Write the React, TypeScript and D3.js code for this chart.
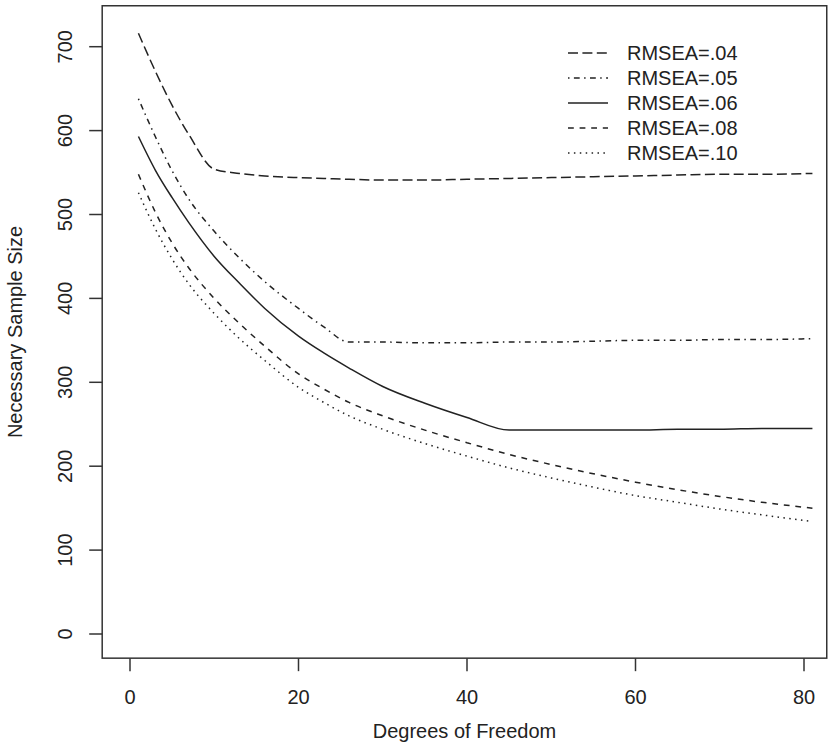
import { useEffect, useRef } from 'react'
import * as d3 from 'd3'

// degrees of freedom where the curves were read
const degrees = [1, 3, 5, 7, 10, 13, 16, 20, 23, 26, 30, 35, 40, 45, 50, 55, 60, 65, 70, 75, 81]

const rmsea04 = [716, 671, 630, 595, 554, 549, 546, 544, 543, 542, 541, 541, 542, 543, 544, 545, 546, 547, 548, 548, 549]
const rmsea05 = [638, 593, 552, 518, 480, 448, 420, 388, 366, 348, 348, 347, 347, 348, 348, 349, 350, 350, 351, 351, 352]
const rmsea06 = [593, 553, 520, 490, 450, 418, 388, 355, 335, 317, 295, 275, 258, 243, 243, 243, 243, 244, 244, 245, 245]
const rmsea08 = [548, 503, 466, 436, 400, 370, 343, 310, 292, 276, 260, 243, 228, 214, 202, 191, 181, 172, 164, 157, 150]
const rmsea10 = [526, 483, 447, 417, 382, 352, 326, 294, 276, 260, 244, 227, 212, 198, 186, 175, 165, 157, 149, 142, 134]

const seriesLabels = ['RMSEA=.04', 'RMSEA=.05', 'RMSEA=.06', 'RMSEA=.08', 'RMSEA=.10']
const xTicks = [0, 20, 40, 60, 80]
const yTicks = [0, 100, 200, 300, 400, 500, 600, 700]

export default function App() {
  const ref = useRef<SVGSVGElement>(null)

  useEffect(() => {
    const width = 829
    const height = 744
    const font = '"Liberation Sans", Arial, Helvetica, sans-serif'
    const ink = '#222'

    const x = d3.scaleLinear().domain([0, 80]).range([130, 804])
    const y = d3.scaleLinear().domain([0, 700]).range([634, 46.7])

    // box around plot region (R-style 4% padding)
    const box = { x0: x(-3.3), x1: x(82.7), y0: y(748.8), y1: y(-28.8) }

    const svg = d3.select(ref.current)
      .attr('width', width)
      .attr('height', height)
      .attr('viewBox', [0, 0, width, height])
    svg.selectAll('*').remove()

    svg.append('rect')
      .attr('width', width).attr('height', height).attr('fill', '#fff')

    svg.append('rect')
      .attr('x', box.x0).attr('y', box.y0)
      .attr('width', box.x1 - box.x0).attr('height', box.y1 - box.y0)
      .attr('fill', 'none').attr('stroke', '#333').attr('stroke-width', 1.5)

    // dash patterns like R's lty scaled up
    const dashes = ['10 4.4', '1.5 4.4 5.8 4.4', null, '5.8 5.8', '1.5 4.4']
    const series = [rmsea04, rmsea05, rmsea06, rmsea08, rmsea10]

    const line = d3.line<number>()
      .x((_, i) => x(degrees[i]))
      .y(d => y(d))
      .curve(d3.curveMonotoneX)

    series.forEach((s, i) => {
      svg.append('path')
        .attr('d', line(s))
        .attr('fill', 'none')
        .attr('stroke', ink)
        .attr('stroke-width', 1.5)
        .attr('stroke-dasharray', dashes[i])
    })

    // x axis
    const xa = svg.append('g').attr('font-family', font).attr('font-size', 20).attr('fill', ink)
    xa.selectAll('line').data(xTicks).join('line')
      .attr('x1', d => x(d)).attr('x2', d => x(d))
      .attr('y1', box.y1).attr('y2', box.y1 + 13)
      .attr('stroke', '#333').attr('stroke-width', 1.5)
    xa.selectAll('text.t').data(xTicks).join('text')
      .attr('class', 't')
      .attr('x', d => x(d)).attr('y', 704)
      .attr('text-anchor', 'middle')
      .text(d => d)
    xa.append('text')
      .attr('x', (box.x0 + box.x1) / 2).attr('y', 738)
      .attr('text-anchor', 'middle')
      .text('Degrees of Freedom')

    // y axis
    const ya = svg.append('g').attr('font-family', font).attr('font-size', 20).attr('fill', ink)
    ya.selectAll('line').data(yTicks).join('line')
      .attr('x1', box.x0 - 13).attr('x2', box.x0)
      .attr('y1', d => y(d)).attr('y2', d => y(d))
      .attr('stroke', '#333').attr('stroke-width', 1.5)
    ya.selectAll('text.t').data(yTicks).join('text')
      .attr('class', 't')
      .attr('transform', d => `translate(72,${y(d)}) rotate(-90)`)
      .attr('text-anchor', 'middle')
      .text(d => d)
    ya.append('text')
      .attr('transform', `translate(22,${(box.y0 + box.y1) / 2}) rotate(-90)`)
      .attr('text-anchor', 'middle')
      .text('Necessary Sample Size')

    // legend
    const lg = svg.append('g').attr('font-family', font).attr('font-size', 20).attr('fill', ink)
    seriesLabels.forEach((lab, i) => {
      const cy = 53 + i * 25
      lg.append('line')
        .attr('x1', 568).attr('x2', 608).attr('y1', cy).attr('y2', cy)
        .attr('stroke', ink).attr('stroke-width', 1.5)
        .attr('stroke-dasharray', dashes[i])
      lg.append('text')
        .attr('x', 627).attr('y', cy + 7)
        .text(lab)
    })
  }, [])

  return <svg ref={ref} style={{ position: 'absolute', left: 0, top: 0 }} />
}
